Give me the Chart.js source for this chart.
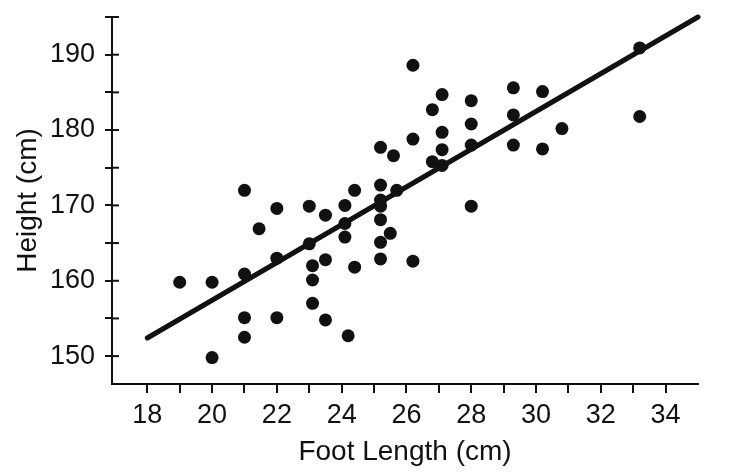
<!DOCTYPE html>
<html lang="en">
<head>
    <meta charset="UTF-8">
    <title>Foot Length vs Height</title>
    <script src="https://cdn.jsdelivr.net/npm/chart.js"></script>
    <style>
        body, html {
            margin: 0;
            padding: 0;
            background: #fff;
        }
        #wrap {
            width: 740px;
            height: 475px;
            position: relative;
        }
    </style>
</head>
<body>
    <div id="wrap"><canvas id="chart"></canvas></div>

    <script>
        // Data (foot length in cm, height in cm)
        const footLength = [
            19.0, 20.0, 20.0, 21.0, 21.0, 21.0, 21.0, 21.45, 22.0, 22.0, 22.0,
            23.0, 23.0, 23.1, 23.1, 23.1, 23.5, 23.5, 23.5,
            24.1, 24.1, 24.1, 24.2, 24.4, 24.4,
            25.2, 25.2, 25.2, 25.2, 25.2, 25.2, 25.2, 25.5, 25.6, 25.7,
            26.2, 26.2, 26.2, 26.8, 26.8, 27.1, 27.1, 27.1, 27.1,
            28.0, 28.0, 28.0, 28.0, 29.3, 29.3, 29.3, 30.2, 30.2, 30.8,
            33.2, 33.2
        ];
        const height = [
            159.8, 159.8, 149.8, 172.0, 160.9, 155.1, 152.5, 166.9, 169.6, 163.0, 155.1,
            169.9, 164.9, 162.0, 160.1, 157.0, 168.7, 162.8, 154.8,
            170.0, 167.6, 165.8, 152.7, 172.0, 161.8,
            172.7, 170.7, 169.9, 168.1, 165.1, 162.9, 177.7, 166.3, 176.6, 172.0,
            188.6, 178.8, 162.6, 182.7, 175.8, 184.7, 179.7, 177.4, 175.3,
            183.9, 180.8, 178.0, 169.9, 185.6, 182.0, 178.0, 185.1, 177.5, 180.2,
            190.9, 181.8
        ];

        // Best-fit line end points
        const fitX = [18, 35];
        const fitY = [152.4, 195];

        // Axis ticks
        const xTicks = [18, 19, 20, 21, 22, 23, 24, 25, 26, 27, 28, 29, 30, 31, 32, 33, 34];
        const yTicks = [150, 155, 160, 165, 170, 175, 180, 185, 190, 195];

        const ink = '#111';

        // y ticks cross the axis: Chart.js draws the outer half, this adds the inner half
        const innerTicks = {
            id: 'innerTicks',
            afterDraw(chart) {
                const ctx = chart.ctx;
                const y = chart.scales.y;
                ctx.save();
                ctx.strokeStyle = ink;
                ctx.lineWidth = 2;
                yTicks.forEach(v => {
                    const py = y.getPixelForValue(v);
                    ctx.beginPath();
                    ctx.moveTo(y.right, py);
                    ctx.lineTo(y.right + 7, py);
                    ctx.stroke();
                });
                ctx.restore();
            }
        };

        const points = footLength.map((x, i) => ({ x: x, y: height[i] }));
        const fitLine = fitX.map((x, i) => ({ x: x, y: fitY[i] }));

        new Chart(document.getElementById('chart'), {
            type: 'scatter',
            data: {
                datasets: [{
                    data: points,
                    backgroundColor: ink,
                    borderWidth: 0,
                    pointRadius: 6.5,
                    pointHoverRadius: 6.5
                }, {
                    type: 'line',
                    data: fitLine,
                    borderColor: ink,
                    borderWidth: 5,
                    borderCapStyle: 'round',
                    pointRadius: 0,
                    fill: false,
                    clip: false
                }]
            },
            options: {
                responsive: true,
                maintainAspectRatio: false,
                animation: false,
                layout: { padding: { top: 17, right: 42, left: 0, bottom: 0 } },
                plugins: {
                    legend: { display: false },
                    tooltip: { enabled: false }
                },
                scales: {
                    x: {
                        type: 'linear',
                        min: 16.91,
                        max: 35.0,
                        afterBuildTicks: s => { s.ticks = xTicks.map(v => ({ value: v })); },
                        afterFit: s => {
                            s.height = 91;
                            s.paddingLeft = 0;
                            s.paddingRight = 0;
                        },
                        border: { color: ink, width: 2 },
                        grid: { drawOnChartArea: false, color: ink, lineWidth: 2, tickLength: 9 },
                        ticks: {
                            color: ink,
                            padding: 6,
                            maxRotation: 0,
                            autoSkip: false,
                            font: { family: 'Liberation Sans', size: 27 },
                            callback: v => (v % 2 === 0 ? String(v) : '')
                        },
                        title: {
                            display: true,
                            text: 'Foot Length (cm)',
                            color: ink,
                            padding: { top: 0, bottom: 6 },
                            font: { family: 'Liberation Sans', size: 28 }
                        }
                    },
                    y: {
                        min: 146.3,
                        max: 195,
                        afterBuildTicks: s => { s.ticks = yTicks.map(v => ({ value: v })); },
                        afterFit: s => {
                            s.width = 112;
                            s.paddingTop = 0;
                            s.paddingBottom = 0;
                        },
                        border: { color: ink, width: 2 },
                        grid: { drawOnChartArea: false, color: ink, lineWidth: 2, tickLength: 7 },
                        ticks: {
                            color: ink,
                            padding: 10,
                            autoSkip: false,
                            font: { family: 'Liberation Sans', size: 27 },
                            callback: v => (v % 10 === 0 ? String(v) : '')
                        },
                        title: {
                            display: true,
                            text: 'Height (cm)',
                            color: ink,
                            padding: { top: 11, bottom: 0 },
                            font: { family: 'Liberation Sans', size: 28 }
                        }
                    }
                }
            },
            plugins: [innerTicks]
        });
    </script>
</body>
</html>
